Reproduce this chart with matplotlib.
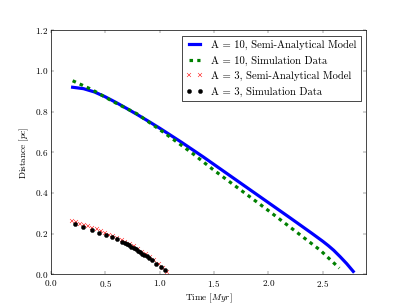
import matplotlib
matplotlib.use("Agg")
import matplotlib.pyplot as plt

# A = 10, semi-analytical model
t_a10_model = [0.20, 0.30, 0.40, 0.50, 0.60, 0.70, 0.80, 0.90, 1.00, 1.20, 1.40,
               1.60, 1.80, 2.00, 2.20, 2.40, 2.50, 2.55, 2.60, 2.66, 2.72, 2.78]
d_a10_model = [0.920, 0.913, 0.897, 0.873, 0.845, 0.815, 0.784, 0.752, 0.719, 0.650,
               0.578, 0.503, 0.428, 0.353, 0.278, 0.202, 0.163, 0.142, 0.119, 0.087,
               0.053, 0.015]

# A = 10, simulation data
t_a10_sim = [0.20, 0.375, 0.574, 0.79, 0.973, 1.04, 1.295, 1.48, 1.73, 1.98,
             2.23, 2.477, 2.652]
d_a10_sim = [0.952, 0.909, 0.849, 0.790, 0.722, 0.697, 0.598, 0.520, 0.421, 0.322,
             0.220, 0.119, 0.031]

# A = 3, semi-analytical model
t_a3_model = [0.19, 0.23, 0.27, 0.305, 0.345, 0.38, 0.42, 0.46, 0.495, 0.535, 0.57,
              0.61, 0.65, 0.685, 0.725, 0.76, 0.80, 0.84, 0.875, 0.915, 0.95, 0.99,
              1.03, 1.07]
d_a3_model = [0.262, 0.256, 0.250, 0.244, 0.237, 0.230, 0.223, 0.214, 0.205, 0.196,
              0.188, 0.178, 0.168, 0.159, 0.148, 0.138, 0.126, 0.112, 0.099, 0.084,
              0.069, 0.050, 0.031, 0.010]

# A = 3, simulation data
t_a3_sim = [0.218, 0.295, 0.375, 0.442, 0.506, 0.559, 0.608, 0.651, 0.68, 0.70, 0.72,
            0.74, 0.76, 0.78, 0.80, 0.82, 0.84, 0.86, 0.88, 0.90, 0.927, 0.967, 1.01,
            1.05]
d_a3_sim = [0.249, 0.231, 0.217, 0.205, 0.195, 0.182, 0.172, 0.162, 0.155, 0.149,
            0.143, 0.137, 0.131, 0.124, 0.117, 0.110, 0.103, 0.096, 0.089, 0.082,
            0.073, 0.053, 0.036, 0.020]

plt.style.use("classic")
plt.rcParams["font.family"] = "serif"
plt.rcParams["font.serif"] = ["cmr10"]
plt.rcParams["mathtext.fontset"] = "cm"
plt.rcParams["axes.formatter.use_mathtext"] = True
plt.rcParams["lines.scale_dashes"] = False
plt.rcParams["xtick.labelsize"] = 13
plt.rcParams["ytick.labelsize"] = 13
plt.rcParams["axes.labelsize"] = 13

fig, ax = plt.subplots(figsize=(8, 6), dpi=50.875)

ax.plot(t_a10_model, d_a10_model, color="blue", linewidth=4.5,
        label="A = 10, Semi-Analytical Model")
ax.plot(t_a10_sim, d_a10_sim, color="green", linewidth=4.5, dashes=(5, 6),
        label="A = 10, Simulation Data")
ax.plot(t_a3_model, d_a3_model, linestyle="none", marker="x", color="red",
        markeredgecolor="red", markersize=6, markeredgewidth=0.7,
        label="A = 3, Semi-Analytical Model")
ax.plot(t_a3_sim, d_a3_sim, linestyle="none", marker="o", color="black",
        markersize=6, label="A = 3, Simulation Data")

ax.set_xlim(0, 2.9)
ax.set_ylim(0, 1.2)
ax.set_xticks([0.0, 0.5, 1.0, 1.5, 2.0, 2.5])
ax.set_yticks([0.0, 0.2, 0.4, 0.6, 0.8, 1.0, 1.2])
ax.set_xlabel("Time [$Myr$]")
ax.set_ylabel("Distance [$pc$]")
ax.legend(loc="upper right", numpoints=2, fontsize=15, handlelength=1.6,
          handletextpad=0.8, borderaxespad=0.5)

fig.savefig("out.png", dpi=50.875)
